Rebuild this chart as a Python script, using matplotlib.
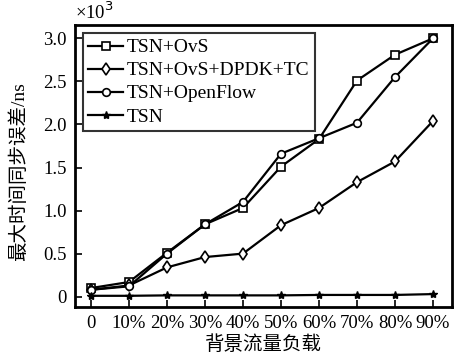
import matplotlib
matplotlib.use("Agg")
import matplotlib.pyplot as plt

categories = ["0", "10%", "20%", "30%", "40%", "50%", "60%", "70%", "80%", "90%"]
ovs = [0.10, 0.17, 0.51, 0.84, 1.03, 1.51, 1.83, 2.51, 2.81, 3.00]
dpdk = [0.08, 0.13, 0.34, 0.46, 0.50, 0.83, 1.03, 1.33, 1.57, 2.04]
openflow = [0.08, 0.12, 0.50, 0.84, 1.10, 1.66, 1.84, 2.02, 2.55, 3.00]
tsn = [0.01, 0.01, 0.015, 0.015, 0.015, 0.015, 0.02, 0.02, 0.02, 0.03]
yticks = [0, 0.5, 1.0, 1.5, 2.0, 2.5, 3.0]
ytick_labels = ["0", "0.5", "1.0", "1.5", "2.0", "2.5", "3.0"]

serif = ["Liberation Serif", "DejaVu Serif"]
mixed = ["Liberation Serif", "Noto Sans CJK SC", "DejaVu Sans"]

fig = plt.figure(figsize=(4.54, 3.58), dpi=100)
ax = fig.add_axes([75/454, 1-307/358, (452-75)/454, (307-25)/358])
x = list(range(len(categories)))

kw = dict(color="black", lw=1.6, mfc="white", mec="black", mew=1.2)
ax.plot(x, ovs, marker="s", ms=5.5, label="TSN+OvS", **kw)
ax.plot(x, dpdk, marker="d", ms=6.5, label="TSN+OvS+DPDK+TC", **kw)
ax.plot(x, openflow, marker="o", ms=5.5, label="TSN+OpenFlow", **kw)
ax.plot(x, tsn, marker="*", ms=6, label="TSN", color="black", lw=1.6, mfc="black", mec="black")

ax.set_xlim(-0.42, 9.5)
ax.set_ylim(-0.12, 3.155)
ax.set_xticks(x)
ax.set_xticklabels(categories, fontfamily=serif, fontsize=13.5)
ax.set_yticks(yticks)
ax.set_yticklabels(ytick_labels, fontfamily=serif, fontsize=13.5)
ax.tick_params(direction="in", length=5, width=1.2, top=False, right=False, pad=6)
for s in ax.spines.values():
    s.set_linewidth(2)

ax.text(0.0, 1.008, "×10$^3$", transform=ax.transAxes, fontsize=13.5,
        fontfamily=serif, ha="left", va="bottom")
ax.set_ylabel("最大时间同步误差/ns", fontfamily=mixed, fontsize=14)
ax.yaxis.set_label_coords(-0.125, 0.48)
ax.set_xlabel("背景流量负载", fontfamily=mixed, fontsize=14, labelpad=2)

leg = ax.legend(loc="upper left", bbox_to_anchor=(0.02, 0.972), prop={"family": serif, "size": 14},
                frameon=True, fancybox=False, edgecolor="black", handlelength=1.8,
                handletextpad=0.15, borderpad=0.3, labelspacing=0.28, borderaxespad=0)
leg.get_frame().set_linewidth(1.5)

fig.savefig("out.png", dpi=100)
